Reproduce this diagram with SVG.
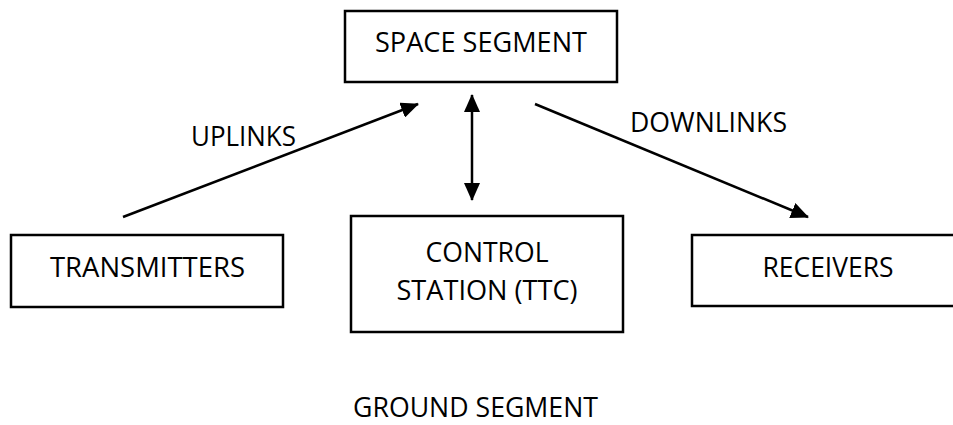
<svg xmlns="http://www.w3.org/2000/svg" width="953" height="425" viewBox="0 0 953 425">
<style>
.box{fill:#fff;stroke:#000;stroke-width:2.5}
.t{font-family:"Open Sans","Liberation Sans",sans-serif;font-size:27px;fill:#000;text-anchor:middle}
.c{stroke:#000;stroke-width:2.5;fill:none}
</style>
<defs>
<marker id="ah" markerUnits="userSpaceOnUse" markerWidth="18" markerHeight="16" refX="17" refY="8" orient="auto-start-reverse" viewBox="0 0 18 16">
<path d="M0,0 L18,8 L0,16 Z" fill="#000"/>
</marker>
</defs>
<rect width="953" height="425" fill="#fff"/>
<g id="space-segment">
<rect class="box" x="345" y="11" width="272" height="71"/>
<text class="t" x="481" y="52" textLength="212" lengthAdjust="spacingAndGlyphs">SPACE SEGMENT</text>
</g>
<g id="transmitters">
<rect class="box" x="11" y="235" width="272" height="72"/>
<text class="t" x="147.5" y="277" textLength="195" lengthAdjust="spacingAndGlyphs">TRANSMITTERS</text>
</g>
<g id="control-station">
<rect class="box" x="351" y="216" width="272" height="116"/>
<text class="t" x="487" y="262" textLength="123" lengthAdjust="spacingAndGlyphs">CONTROL</text>
<text class="t" x="487" y="300" textLength="181" lengthAdjust="spacingAndGlyphs">STATION (TTC)</text>
</g>
<g id="receivers">
<rect class="box" x="692" y="235" width="272" height="71"/>
<text class="t" x="828" y="277" textLength="131" lengthAdjust="spacingAndGlyphs">RECEIVERS</text>
</g>
<g id="connectors">
<line class="c" x1="123" y1="217" x2="418" y2="104" marker-end="url(#ah)"/>
<line class="c" x1="535" y1="104" x2="808" y2="217" marker-end="url(#ah)"/>
<line class="c" x1="472" y1="95" x2="472" y2="200" marker-start="url(#ah)" marker-end="url(#ah)"/>
</g>
<g id="labels">
<text class="t" x="243.5" y="146" textLength="105" lengthAdjust="spacingAndGlyphs">UPLINKS</text>
<text class="t" x="708.5" y="132" textLength="157" lengthAdjust="spacingAndGlyphs">DOWNLINKS</text>
<text class="t" x="475.5" y="417" textLength="245" lengthAdjust="spacingAndGlyphs">GROUND SEGMENT</text>
</g>
</svg>
